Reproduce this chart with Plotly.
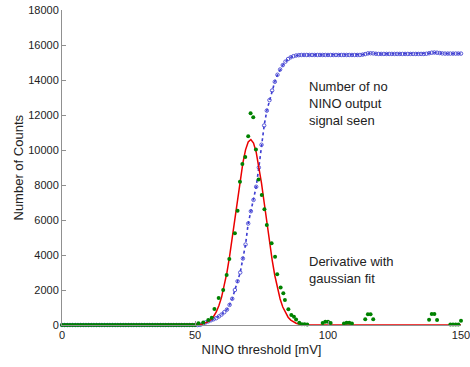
import plotly.graph_objects as go

# ---- data ----
# cumulative count of "no NINO output signal" vs threshold (blue)
blue_x = [0, 1, 2, 3, 4, 5, 6, 7, 8, 9, 10, 11, 12, 13, 14, 15, 16, 17, 18, 19,
          20, 21, 22, 23, 24, 25, 26, 27, 28, 29, 30, 31, 32, 33, 34, 35, 36, 37, 38, 39,
          40, 41, 42, 43, 44, 45, 46, 47, 48, 49, 50, 51, 52, 53, 54, 55, 56, 57, 58, 59,
          60, 61, 62, 63, 64, 65, 66, 67, 68, 69, 70, 71, 72, 73, 74, 75, 76, 77, 78, 79,
          80, 81, 82, 83, 84, 85, 86, 87, 88, 89, 90, 91, 92, 93, 94, 95, 96, 97, 98, 99,
          100, 101, 102, 103, 104, 105, 106, 107, 108, 109, 110, 111, 112, 113, 114, 115, 116, 117, 118, 119,
          120, 121, 122, 123, 124, 125, 126, 127, 128, 129, 130, 131, 132, 133, 134, 135, 136, 137, 138, 139,
          140, 141, 142, 143, 144, 145, 146, 147, 148, 149, 150]
blue_y = [0, 0, 0, 0, 0, 0, 0, 0, 0, 0, 0, 0, 0, 0, 0, 0, 0, 0, 0, 0,
          0, 0, 0, 0, 0, 0, 0, 0, 0, 0, 0, 0, 0, 0, 0, 0, 0, 0, 0, 0,
          0, 0, 0, 0, 0, 0, 0, 0, 0, 0, 0, 0, 10, 60, 150, 210, 270, 330, 390, 490,
          600, 730, 880, 1150, 1500, 2000, 2500, 3000, 3800, 4600, 5800, 6500, 7150, 7900, 9000, 10300, 11400, 12250, 12850, 13400,
          13900, 14300, 14600, 14850, 15050, 15200, 15300, 15360, 15400, 15420, 15430, 15430, 15430, 15430, 15430, 15430, 15430, 15430, 15430, 15430,
          15430, 15430, 15430, 15430, 15430, 15430, 15430, 15430, 15430, 15430, 15430, 15430, 15430, 15450, 15480, 15520, 15530, 15520, 15500, 15490,
          15490, 15490, 15490, 15490, 15490, 15490, 15490, 15490, 15490, 15490, 15490, 15490, 15490, 15490, 15490, 15490, 15490, 15500, 15530, 15560,
          15570, 15560, 15540, 15520, 15510, 15510, 15510, 15510, 15510, 15510, 15510]

# derivative points (green)
deriv_x = [0, 1, 2, 3, 4, 5, 6, 7, 8, 9, 10, 11, 12, 13, 14, 15, 16, 17, 18, 19,
           20, 21, 22, 23, 24, 25, 26, 27, 28, 29, 30, 31, 32, 33, 34, 35, 36, 37, 38, 39,
           40, 41, 42, 43, 44, 45, 46, 47, 48, 49, 50,
           51.3, 53.1, 55.0, 56.3, 57.3, 58.9, 60.6, 61.9, 62.9, 65.0, 66.0, 66.9, 67.8, 68.9,
           70.0, 70.9, 71.9, 72.9, 73.9, 75.1, 76.1, 77.0, 78.8, 80.1, 80.9, 82.2, 83.2, 83.8,
           85.1, 86.2, 87.2, 88.0, 89.2, 90.2, 91.2, 92.2,
           98, 99, 100, 101, 106, 107, 108, 109, 114, 115, 116, 117,
           138, 139, 140, 141, 146, 147, 148, 149, 150]
deriv_y = [0, 0, 0, 0, 0, 0, 0, 0, 0, 0, 0, 0, 0, 0, 0, 0, 0, 0, 0, 0,
           0, 0, 0, 0, 0, 0, 0, 0, 0, 0, 0, 0, 0, 0, 0, 0, 0, 0, 0, 0,
           0, 0, 0, 0, 0, 0, 0, 0, 0, 0, 0,
           100, 150, 290, 420, 910, 1550, 2000, 2860, 3770, 5240, 6530, 8190, 9200, 9600,
           10790, 12100, 11870, 10030, 8310, 7430, 6610, 5710, 4670, 3900, 2900, 2150, 1810, 1430,
           900, 570, 470, 320, 130, 50, 40, 30,
           120, 190, 190, 110, 90, 130, 130, 80, 330, 610, 610, 330,
           300, 630, 630, 290, 30, 30, 30, 30, 240]

# gaussian fit (red)
fit_x = [0, 48, 49, 50, 51, 52, 53, 54, 55, 56, 57, 58, 59, 60, 61, 62, 63, 64, 65, 66,
         67, 68, 69, 70, 71, 72, 73, 74, 75, 76, 77, 78, 79, 80, 81, 82, 83, 84, 85, 86,
         87, 88, 89, 90, 91, 92, 93, 94, 95, 150]
fit_y = [0, 2, 5, 10, 19, 36, 64, 111, 188, 307, 487, 745, 1109, 1594, 2222, 2997, 3919, 4961, 6086, 7229,
         8318, 9270, 10007, 10463, 10598, 10397, 9880, 9094, 8109, 7000, 5856, 4745, 3724, 2829, 2085, 1487, 1027, 687, 445, 280,
         170, 100, 57, 31, 17, 9, 4, 2, 1, 0]

x_ticks = [0, 50, 100, 150]
y_ticks = [0, 2000, 4000, 6000, 8000, 10000, 12000, 14000, 16000, 18000]

label_top = "Number of no<br>NINO output<br>signal seen"
label_bottom = "Derivative with<br>gaussian fit"
y_title = "Number of Counts"
x_title = "NINO threshold [mV]"

FONT = "Liberation Sans, Arial, Helvetica, sans-serif"

fig = go.Figure()
fig.add_trace(go.Scatter(
    x=blue_x, y=blue_y, mode="lines+markers",
    line=dict(color="rgb(60,60,210)", width=1.6, dash="dot"),
    marker=dict(symbol="circle-open", size=3.5, color="rgb(70,70,210)", line=dict(width=0.9)),
    hoverinfo="skip", showlegend=False, cliponaxis=False))
fig.add_trace(go.Scatter(
    x=fit_x, y=fit_y, mode="lines",
    line=dict(color="rgb(235,0,0)", width=1.5),
    hoverinfo="skip", showlegend=False, cliponaxis=False))
fig.add_trace(go.Scatter(
    x=deriv_x, y=deriv_y, mode="markers",
    marker=dict(symbol="circle", size=4, color="rgb(0,130,0)"),
    hoverinfo="skip", showlegend=False, cliponaxis=False))

fig.add_annotation(x=92.2, y=12630, xref="x", yref="y", text=label_top,
                   showarrow=False, xanchor="left", yanchor="middle", align="left",
                   font=dict(family=FONT, size=13, color="#222"))
fig.add_annotation(x=92.2, y=3120, xref="x", yref="y", text=label_bottom,
                   showarrow=False, xanchor="left", yanchor="middle", align="left",
                   font=dict(family=FONT, size=13, color="#222"))
fig.add_annotation(x=0, y=0.5, xref="paper", yref="paper", text=y_title,
                   showarrow=False, xanchor="center", yanchor="middle", textangle=-90,
                   xshift=-44, font=dict(family=FONT, size=13, color="#222"))

axis_common = dict(showgrid=False, zeroline=False, showline=True, linecolor="#909090",
                   linewidth=1, ticks="inside", ticklen=4, tickcolor="#909090",
                   ticklabeloverflow="allow", automargin=False,
                   tickfont=dict(family=FONT, size=11, color="#222"))
fig.update_xaxes(range=[0, 150], tickvals=x_ticks, ticktext=[str(v) for v in x_ticks],
                 title=dict(text=x_title, font=dict(family=FONT, size=13, color="#222"), standoff=4),
                 **axis_common)
fig.update_yaxes(range=[0, 18000], tickvals=y_ticks, ticktext=[str(v) for v in y_ticks],
                 **axis_common)
fig.update_layout(width=470, height=367, margin=dict(l=62, r=9, t=10, b=42),
                  plot_bgcolor="white", paper_bgcolor="white")
fig.write_html("out.html")
